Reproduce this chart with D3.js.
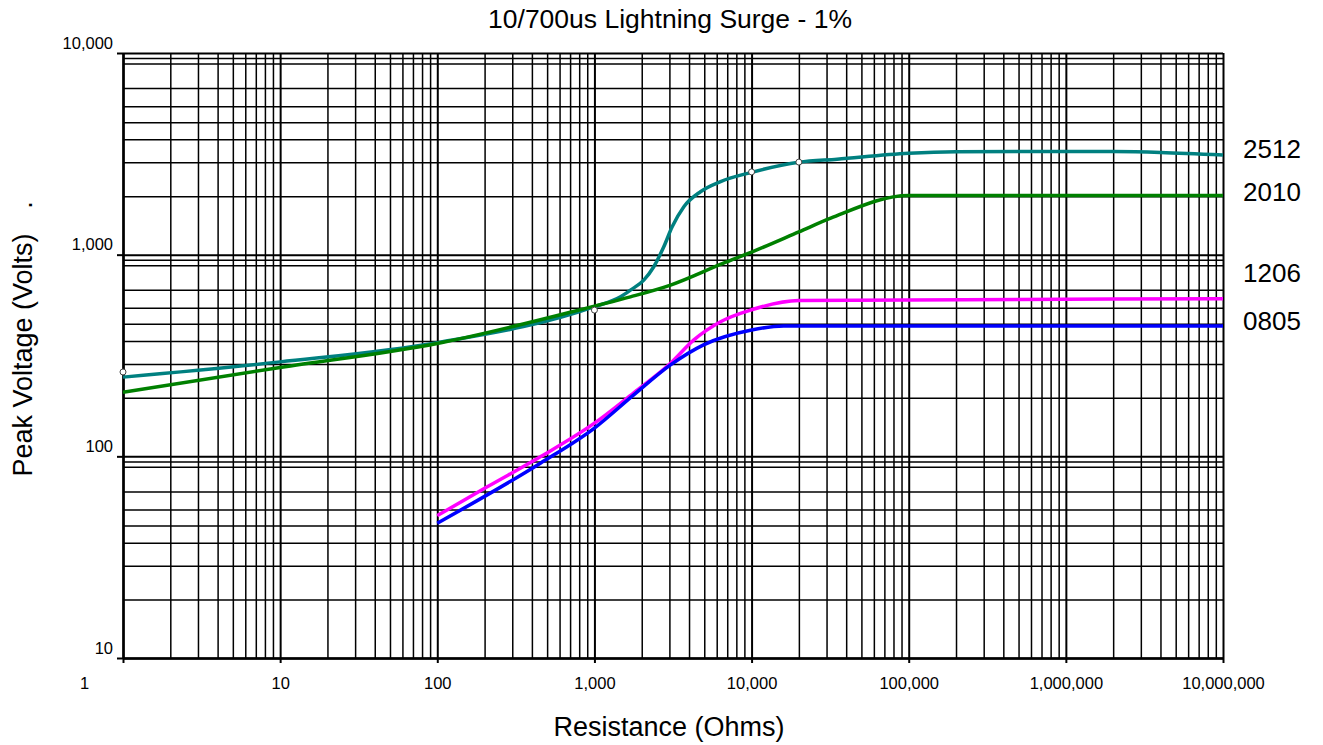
<!DOCTYPE html>
<html>
<head>
<meta charset="utf-8">
<script src="https://cdn.jsdelivr.net/npm/d3@7"></script>
<style>
  body { margin: 0; background: #fff; }
  svg { font-family: "Liberation Sans", Arial, sans-serif; }
</style>
</head>
<body>
<svg id="chart" width="1323" height="745"></svg>
<script>
// Data: resistance (ohms) and peak voltage (volts)
var r2512 = [1, 10, 100, 1000, 1466, 1695, 2061, 2386, 2763, 3124, 3707, 4730, 6350, 10000, 20000, 35000, 100000, 200000, 1000000, 2000000, 4000000, 10000000];
var v2512 = [247, 294, 366, 552, 618, 667, 748, 871, 1094, 1374, 1729, 2052, 2302, 2560, 2870, 2973, 3180, 3236, 3250, 3245, 3213, 3120];

var r2010 = [1, 10, 100, 1000, 1695, 3049, 6630, 10000, 20000, 31900, 100000, 10000000];
var v2010 = [208, 276, 363, 556, 618, 707, 908, 1030, 1297, 1517, 1965, 1965];

var r1206 = [100, 208, 453, 1000, 1771, 3049, 4276, 6350, 10000, 20000, 10000000];
var v1206 = [50.8, 70.6, 99.5, 146, 206, 289, 377, 465, 533, 593, 604];

var r0805 = [100, 453, 1000, 1771, 3049, 4946, 10000, 16000, 10000000];
var v0805 = [46.6, 92.4, 138, 201, 284, 357, 423, 443, 443];

// open circle markers on the 2512 curve
var markR = [1, 1000, 10000, 20000];
var markV = [262, 531, 2573, 2877];

var sizes = ["2512", "2010", "1206", "0805"];
var sizeColors = ["#008080", "#008000", "#ff00ff", "#0000ff"];
var labelVolts = [3340, 2065, 811, 469]; // where each size name sits, in volts

var xTicks = [1, 10, 100, 1000, 10000, 100000, 1000000, 10000000];
var yTicks = [10, 100, 1000, 10000];
var xMinorMult = [2, 3, 4, 5, 6, 7, 8, 9];
var yMinorMult = [1.95, 2.87, 3.73, 4.54, 5.45, 6.7, 8.87, 9.44];

// Define margins
var margin = { top: 53, left: 123 },
    width = 1100,
    height = 605;

var svg = d3.select("#chart");
var g = svg.append("g")
    .attr("transform", "translate(" + margin.left + "," + margin.top + ")");

// Define scales
var x = d3.scaleLog().domain([1, 1e7]).range([0, width]);
var y = d3.scaleLog().domain([10, 10000]).range([height, 0]);

// minor grid values
var xMinor = [], yMinor = [];
xTicks.slice(0, -1).forEach(function (d) {
    xMinorMult.forEach(function (m) { xMinor.push(d * m); });
});
yTicks.slice(0, -1).forEach(function (d) {
    yMinorMult.forEach(function (m) { yMinor.push(d * m); });
});

function grid(axis, cls, sw) {
    var a = g.append("g").attr("class", cls).call(axis);
    a.select(".domain").remove();
    a.selectAll("line").attr("stroke", "#000").attr("stroke-width", sw);
    return a;
}

// grid lines
grid(d3.axisBottom(x).tickValues(xMinor).tickSize(-height).tickFormat(""), "xgrid", 1.5)
    .attr("transform", "translate(0," + height + ")");
grid(d3.axisLeft(y).tickValues(yMinor).tickSize(-width).tickFormat(""), "ygrid", 1.5);
grid(d3.axisBottom(x).tickValues(xTicks).tickSize(-height).tickFormat(""), "xgrid-major", 2)
    .attr("transform", "translate(0," + height + ")");
grid(d3.axisLeft(y).tickValues(yTicks).tickSize(-width).tickFormat(""), "ygrid-major", 2);

// axes
var fmt = d3.format(",");
var xAxis = g.append("g")
    .attr("transform", "translate(0," + height + ")")
    .call(d3.axisBottom(x).tickValues(xTicks).tickFormat(fmt).tickSize(5).tickPadding(14).tickSizeOuter(0));
var yAxis = g.append("g")
    .call(d3.axisLeft(y).tickValues(yTicks).tickFormat(fmt).tickSize(6).tickPadding(4).tickSizeOuter(0));

[xAxis, yAxis].forEach(function (a) {
    a.select(".domain").attr("stroke", "#000").attr("stroke-width", 2.5);
    a.selectAll("line").attr("stroke", "#000").attr("stroke-width", 2);
    a.selectAll("text").attr("fill", "#000").style("font-size", "16.5px")
        .style("font-family", "'Liberation Sans', Arial, sans-serif");
});
yAxis.selectAll("text").attr("dy", "-0.3em");
xAxis.selectAll("text").filter(function (d) { return d === 1; }).attr("dx", -39);

// Define lines
var line = d3.line()
    .curve(d3.curveMonotoneX)
    .x(function (d) { return x(d[0]); })
    .y(function (d) { return y(d[1]); });

var series = [
    d3.zip(r2512, v2512),
    d3.zip(r2010, v2010),
    d3.zip(r1206, v1206),
    d3.zip(r0805, v0805)
];

g.selectAll(".size-line")
    .data(series)
    .enter()
    .append("path")
    .attr("class", "size-line")
    .attr("d", line)
    .attr("fill", "none")
    .attr("stroke", function (d, i) { return sizeColors[i]; })
    .attr("stroke-width", 3.5);

g.selectAll(".mark")
    .data(d3.zip(markR, markV))
    .enter()
    .append("circle")
    .attr("class", "mark")
    .attr("cx", function (d) { return x(d[0]); })
    .attr("cy", function (d) { return y(d[1]); })
    .attr("r", 3)
    .attr("fill", "#fff")
    .attr("stroke", "#444")
    .attr("stroke-width", 1);

// size labels at the right
g.selectAll(".size-label")
    .data(sizes)
    .enter()
    .append("text")
    .attr("class", "size-label")
    .attr("x", width + 20)
    .attr("y", function (d, i) { return y(labelVolts[i]); })
    .attr("dy", "0.36em")
    .style("font-size", "26px")
    .text(function (d) { return d; });

// titles
svg.append("text")
    .attr("x", 670).attr("y", 28)
    .attr("text-anchor", "middle")
    .style("font-size", "26.5px")
    .text("10/700us Lightning Surge - 1%");

svg.append("text")
    .attr("x", 669).attr("y", 736)
    .attr("text-anchor", "middle")
    .style("font-size", "27px")
    .text("Resistance (Ohms)");

svg.append("text")
    .attr("transform", "translate(32,355) rotate(-90)")
    .attr("text-anchor", "middle")
    .style("font-size", "27px")
    .text("Peak Voltage (Volts)");

svg.append("text")
    .attr("transform", "translate(32,205) rotate(-90)")
    .attr("text-anchor", "middle")
    .style("font-size", "27px")
    .text(".");
</script>
</body>
</html>
